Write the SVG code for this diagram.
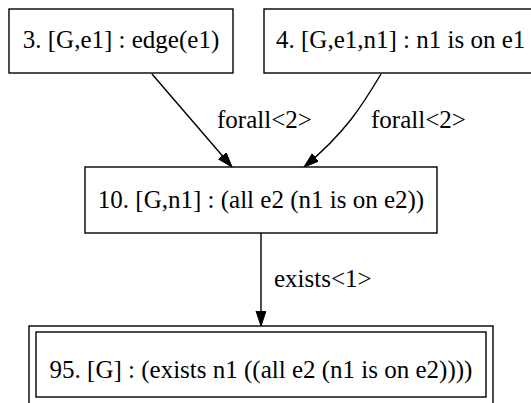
<svg xmlns="http://www.w3.org/2000/svg" width="531" height="403" viewBox="0 0 531 403">
<style>
.box{fill:#fff;stroke:#000;stroke-width:1.4}
.t{font-family:"Liberation Serif","Times New Roman",serif;font-size:25px;fill:#000}
.e{fill:none;stroke:#000;stroke-width:1.4}
</style>
<defs>
<marker id="ah" markerUnits="userSpaceOnUse" markerWidth="16" markerHeight="12" refX="15" refY="5" orient="auto" viewBox="0 0 16 12">
<path d="M0,0 L15,5 L0,10 Z" fill="#000" stroke="#000" stroke-width="1"/>
</marker>
</defs>
<rect width="531" height="403" fill="#fff"/>
<g id="connectors">
<path class="e" d="M152,74 L232,167" marker-end="url(#ah)"/>
<path class="e" d="M381,74 C362,106 345,133 304,167" marker-end="url(#ah)"/>
<path class="e" d="M261,233 L261,326" marker-end="url(#ah)"/>
<text class="t" x="217" y="128">forall&lt;2&gt;</text>
<text class="t" x="371" y="128">forall&lt;2&gt;</text>
<text class="t" x="274" y="287">exists&lt;1&gt;</text>
</g>
<g id="n3">
<rect class="box" x="9" y="9" width="224" height="64"/>
<text class="t" x="121" y="48" text-anchor="middle">3. [G,e1] : edge(e1)</text>
</g>
<g id="n4">
<rect class="box" x="264" y="9" width="274" height="64"/>
<text class="t" x="276" y="48">4. [G,e1,n1] : n1 is on e1</text>
</g>
<g id="n10">
<rect class="box" x="85" y="167" width="352" height="66"/>
<text class="t" x="261" y="208" text-anchor="middle">10. [G,n1] : (all e2 (n1 is on e2))</text>
</g>
<g id="n95">
<rect class="box" x="29" y="326" width="464" height="80"/>
<rect class="box" x="36" y="332" width="450" height="65"/>
<text class="t" x="261" y="378" text-anchor="middle">95. [G] : (exists n1 ((all e2 (n1 is on e2))))</text>
</g>
</svg>
